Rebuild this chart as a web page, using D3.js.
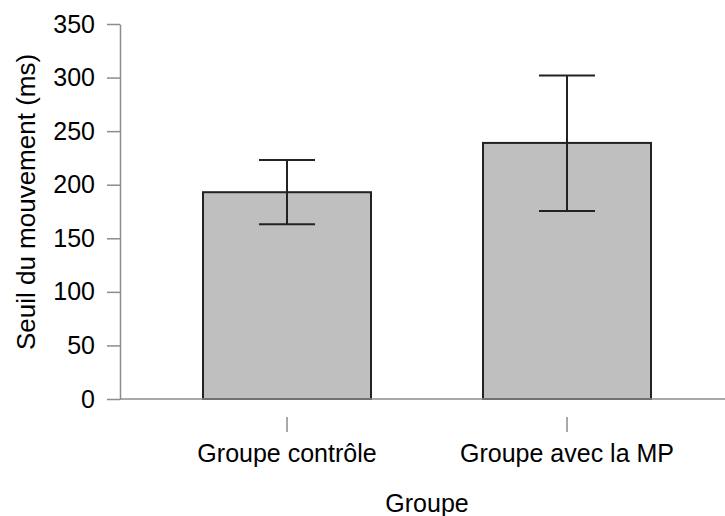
<!DOCTYPE html>
<html>
<head>
<meta charset="utf-8">
<script src="https://cdn.jsdelivr.net/npm/d3@7"></script>
<style>
  body { margin: 0; background: #fff; }
  svg { display: block; font-family: "Liberation Sans", Arial, sans-serif; }
</style>
</head>
<body>
<div id="chart"></div>
<script>
const categories = ['Groupe contrôle', 'Groupe avec la MP'];
const means = [193, 239];
const errLow = [163, 175.5];
const errHigh = [223, 302];
const yTicks = [0, 50, 100, 150, 200, 250, 300, 350];

const width = 725, height = 516;
const axisColor = '#8c8c8c';
const fontSize = '25px';

const svg = d3.select('#chart').append('svg')
  .attr('width', width)
  .attr('height', height);

const y = d3.scaleLinear()
  .domain([0, 350])
  .range([399, 24]);

const x = d3.scaleBand()
  .domain(categories)
  .range([147, 707])
  .paddingInner(0.4)
  .paddingOuter(0.2);

const data = categories.map((c, i) => ({cat: c, mean: means[i], lo: errLow[i], hi: errHigh[i]}));

// bars
svg.selectAll('.bar')
  .data(data)
  .enter().append('rect')
  .attr('class', 'bar')
  .attr('x', d => x(d.cat))
  .attr('y', d => y(d.mean))
  .attr('width', x.bandwidth())
  .attr('height', d => y(0) - y(d.mean))
  .attr('fill', '#bfbfbf')
  .attr('stroke', '#222')
  .attr('stroke-width', 2);

// error bars
const capW = 56;
const err = svg.selectAll('.err')
  .data(data)
  .enter().append('g')
  .attr('class', 'err')
  .attr('stroke', '#222')
  .attr('stroke-width', 2);

err.append('line')
  .attr('x1', d => x(d.cat) + x.bandwidth() / 2)
  .attr('x2', d => x(d.cat) + x.bandwidth() / 2)
  .attr('y1', d => y(d.lo))
  .attr('y2', d => y(d.hi));
err.append('line')
  .attr('x1', d => x(d.cat) + x.bandwidth() / 2 - capW / 2)
  .attr('x2', d => x(d.cat) + x.bandwidth() / 2 + capW / 2)
  .attr('y1', d => y(d.hi))
  .attr('y2', d => y(d.hi));
err.append('line')
  .attr('x1', d => x(d.cat) + x.bandwidth() / 2 - capW / 2)
  .attr('x2', d => x(d.cat) + x.bandwidth() / 2 + capW / 2)
  .attr('y1', d => y(d.lo))
  .attr('y2', d => y(d.lo));

// x baseline
svg.append('line')
  .attr('x1', 120).attr('x2', width)
  .attr('y1', y(0)).attr('y2', y(0))
  .attr('stroke', axisColor)
  .attr('stroke-width', 1.5);

// y axis
const yAxis = svg.append('g')
  .attr('transform', 'translate(120,0)')
  .call(d3.axisLeft(y).tickValues(yTicks).tickSizeInner(13).tickSizeOuter(0).tickPadding(12));
yAxis.selectAll('path, line').attr('stroke', axisColor).attr('stroke-width', 1.5);
yAxis.selectAll('text').attr('fill', '#000').style('font-size', fontSize).style('font-family', '"Liberation Sans", Arial, sans-serif');

// x axis (ticks detached below baseline)
const xAxis = svg.append('g')
  .attr('transform', 'translate(0,417)')
  .call(d3.axisBottom(x).tickSizeInner(15).tickSizeOuter(0).tickPadding(12));
xAxis.select('.domain').remove();
xAxis.selectAll('line').attr('stroke', axisColor).attr('stroke-width', 1.5);
xAxis.selectAll('text').attr('fill', '#000').style('font-size', fontSize).style('font-family', '"Liberation Sans", Arial, sans-serif');

// axis titles
svg.append('text')
  .attr('x', 427)
  .attr('y', 512)
  .attr('text-anchor', 'middle')
  .style('font-size', fontSize)
  .text('Groupe');

svg.append('text')
  .attr('transform', 'translate(35,202) rotate(-90)')
  .attr('text-anchor', 'middle')
  .style('font-size', '26px')
  .text('Seuil du mouvement (ms)');
</script>
</body>
</html>
